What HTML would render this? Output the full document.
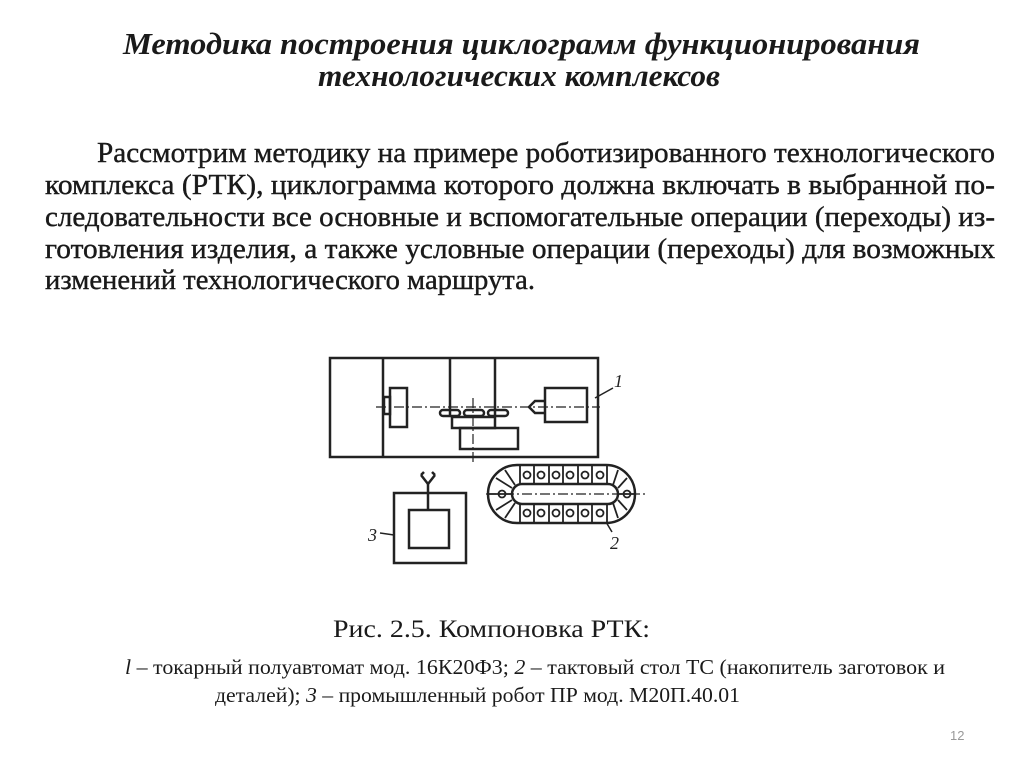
<!DOCTYPE html>
<html><head><meta charset="utf-8"><style>html,body{margin:0;padding:0;background:#fff}svg{display:block}</style></head>
<body>
<svg width="1024" height="767" viewBox="0 0 1024 767" xmlns="http://www.w3.org/2000/svg">
<g font-family="Liberation Serif, serif" fill="#1a1a1a">
<text x="123" y="54" font-size="31" font-weight="bold" font-style="italic" textLength="797" lengthAdjust="spacingAndGlyphs">Методика построения циклограмм функционирования</text>
<text x="318" y="86" font-size="31" font-weight="bold" font-style="italic" textLength="402" lengthAdjust="spacingAndGlyphs">технологических комплексов</text>
<g font-size="29" stroke="#1a1a1a" stroke-width="0.4">
<text x="97" y="162" textLength="898" lengthAdjust="spacingAndGlyphs">Рассмотрим методику на примере роботизированного технологического</text>
<text x="45" y="194" textLength="950" lengthAdjust="spacingAndGlyphs">комплекса (РТК), циклограмма которого должна включать в выбранной по-</text>
<text x="45" y="226" textLength="950" lengthAdjust="spacingAndGlyphs">следовательности все основные и вспомогательные операции (переходы) из-</text>
<text x="45" y="258" textLength="950" lengthAdjust="spacingAndGlyphs">готовления изделия, а также условные операции (переходы) для возможных</text>
<text x="45" y="289" textLength="490" lengthAdjust="spacingAndGlyphs">изменений технологического маршрута.</text>
</g>
<text x="333" y="637" font-size="25" textLength="317" lengthAdjust="spacingAndGlyphs">Рис. 2.5. Компоновка РТК:</text>
<text x="125" y="674" font-size="21" textLength="820" lengthAdjust="spacingAndGlyphs"><tspan font-style="italic">l</tspan> – токарный полуавтомат мод. 16К20Ф3; <tspan font-style="italic">2</tspan> – тактовый стол ТС (накопитель заготовок и</text>
<text x="215" y="702" font-size="21" textLength="525" lengthAdjust="spacingAndGlyphs">деталей); <tspan font-style="italic">3</tspan> – промышленный робот ПР мод. М20П.40.01</text>
<text x="950" y="740" font-size="13" fill="#999" font-family="Liberation Sans, sans-serif">12</text>
</g>
<g fill="none" stroke="#222" stroke-width="2.5">
<rect x="330" y="358" width="268" height="99"/>
<line x1="383" y1="358" x2="383" y2="457"/>
<line x1="450" y1="358" x2="450" y2="417"/>
<line x1="495" y1="358" x2="495" y2="417"/>
<rect x="390" y="388" width="17" height="39"/>
<rect x="384" y="397" width="6" height="17"/>
<rect x="545" y="388" width="42" height="34"/>
<path d="M545 401 L535 401 L529 407 L535 413 L545 413"/>
<rect x="440" y="410" width="20" height="6" rx="3"/>
<rect x="464" y="410" width="20" height="6" rx="3"/>
<rect x="488" y="410" width="20" height="6" rx="3"/>
<rect x="452" y="417" width="43" height="11"/>
<rect x="460" y="428" width="58" height="21"/>
<line x1="595" y1="398" x2="613" y2="388" stroke-width="1.5"/>
<rect x="394" y="493" width="72" height="70"/>
<rect x="409" y="510" width="40" height="38"/>
<line x1="428" y1="484" x2="428" y2="510"/>
<path d="M421 475 L428 484 L435 475 M421 475 L424 472 M435 475 L432 472"/>
<line x1="380" y1="533" x2="394" y2="535" stroke-width="1.5"/>
<rect x="488" y="465" width="147" height="58" rx="29"/>
<rect x="512" y="484" width="106" height="20" rx="10"/>
<line x1="606" y1="522" x2="612" y2="532" stroke-width="1.5"/>
</g>
<g stroke="#222" stroke-width="1.2" fill="none" stroke-dasharray="10 3 2 3">
<line x1="376" y1="407" x2="600" y2="407"/>
<line x1="473" y1="398" x2="473" y2="463"/>
<line x1="486" y1="494" x2="645" y2="494"/>
</g>
<g stroke="#222" stroke-width="1.8" fill="none">
<path d="M520 466 V484 M534 466 V484 M549 466 V484 M563 466 V484 M578 466 V484 M592 466 V484 M607 466 V484"/>
<path d="M520 504 V522 M534 504 V522 M549 504 V522 M563 504 V522 M578 504 V522 M592 504 V522 M607 504 V522"/>
<circle cx="527" cy="475" r="3.5"/><circle cx="541" cy="475" r="3.5"/><circle cx="556" cy="475" r="3.5"/><circle cx="570" cy="475" r="3.5"/><circle cx="585" cy="475" r="3.5"/><circle cx="600" cy="475" r="3.5"/>
<circle cx="527" cy="513" r="3.5"/><circle cx="541" cy="513" r="3.5"/><circle cx="556" cy="513" r="3.5"/><circle cx="570" cy="513" r="3.5"/><circle cx="585" cy="513" r="3.5"/><circle cx="600" cy="513" r="3.5"/>
<circle cx="502" cy="494" r="3.5"/><circle cx="627" cy="494" r="3.5"/>
<path d="M496 478 L512 488 M489 494 H512 M496 510 L512 500 M627 478 L618 488 M634 494 H618 M627 510 L618 500 M505 470 L515 485 M505 518 L515 503 M618 470 L613 485 M618 518 L613 503"/>
</g>
<g font-family="Liberation Serif, serif" font-style="italic" font-size="18" fill="#222">
<text x="614" y="387">1</text>
<text x="368" y="541">3</text>
<text x="610" y="549">2</text>
</g>
</svg>
</body></html>
